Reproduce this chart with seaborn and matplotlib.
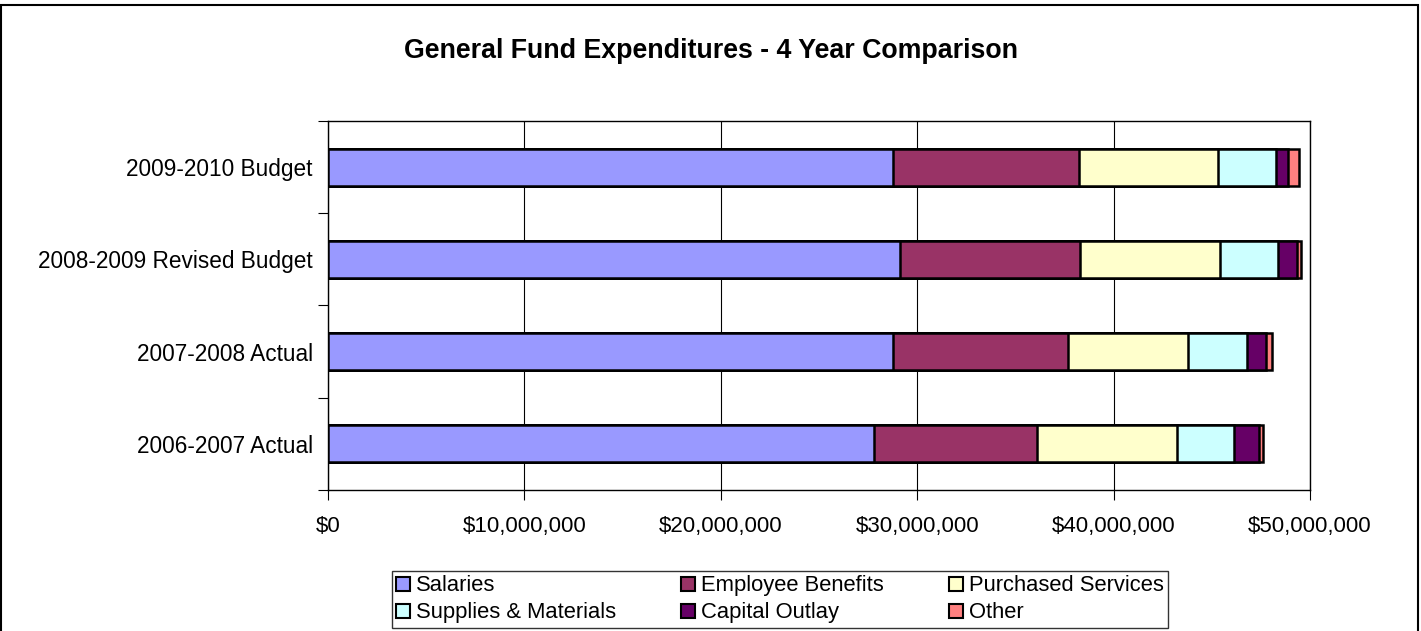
import numpy as np
import pandas as pd
import matplotlib
matplotlib.use("Agg")
import matplotlib.pyplot as plt
from matplotlib.patches import Patch, Rectangle
from matplotlib.ticker import FuncFormatter
import seaborn as sns

# Fiscal years, top to bottom
years = ["2009-2010 Budget", "2008-2009 Revised Budget", "2007-2008 Actual", "2006-2007 Actual"]

# Expenditure by category (millions of dollars), same order as years
salaries = [28.78, 29.12, 28.75, 27.82]
employee_benefits = [9.47, 9.17, 8.91, 8.29]
purchased_services = [7.08, 7.13, 6.15, 7.13]
supplies_materials = [2.92, 2.97, 2.96, 2.91]
capital_outlay = [0.65, 0.93, 0.97, 1.27]
other = [0.54, 0.22, 0.32, 0.17]

categories = ["Salaries", "Employee Benefits", "Purchased Services",
              "Supplies & Materials", "Capital Outlay", "Other"]
colors = ["#9999FF", "#993366", "#FFFFCC", "#CCFFFF", "#660066", "#FF8080"]

sns.set_theme(style="white")
plt.rcParams["font.family"] = ["Liberation Sans", "DejaVu Sans"]
plt.rcParams["text.color"] = "black"
plt.rcParams["xtick.color"] = "black"
plt.rcParams["ytick.color"] = "black"

series = [salaries, employee_benefits, purchased_services,
          supplies_materials, capital_outlay, other]
df = pd.DataFrame({name: np.array(vals) * 1e6 for name, vals in zip(categories, series)})
df["Year"] = years
cum = df[categories].cumsum(axis=1)

fig = plt.figure(figsize=(14.21, 6.31), dpi=100)
ax = fig.add_axes([0.2308, 0.2235, 0.6911, 0.5847])

# Stack by overlaying cumulative totals, widest first
for name, col in reversed(list(zip(categories, colors))):
    sns.barplot(x=cum[name].values, y=df["Year"], order=years, orient="h",
                color=col, width=0.4, edgecolor="black", linewidth=1.8,
                saturation=1, ax=ax, zorder=3)

ax.set_xlim(0, 50e6)
ax.set_ylim(3.5, -0.5)
ax.set_xticks(np.arange(0, 50e6 + 1, 10e6))
ax.xaxis.set_major_formatter(FuncFormatter(lambda v, p: f"${v:,.0f}"))
ax.grid(axis="x", color="black", linewidth=0.8, zorder=0)
ax.grid(axis="y", visible=False)
ax.set_xlabel("")
ax.set_ylabel("")
for s in ax.spines.values():
    s.set_color("black")
    s.set_linewidth(1.0)

ax.set_yticks(np.arange(-0.5, 4.0, 1.0), minor=True)
ax.tick_params(axis="y", which="major", length=0, pad=11, labelsize=16.3, labelcolor="black")
ax.tick_params(axis="y", which="minor", length=7, width=0.8, color="black", left=True)
ax.tick_params(axis="x", which="major", length=7, width=0.8, color="black",
               bottom=True, pad=12, labelsize=16, labelcolor="black")

fig.text(0.5, 0.908, "General Fund Expenditures - 4 Year Comparison",
         ha="center", va="baseline", fontsize=19.3, fontweight="bold", color="black")

handles = [Patch(facecolor=c, edgecolor="black", linewidth=1.5) for c in colors]
order = [0, 3, 1, 4, 2, 5]
leg = fig.legend([handles[i] for i in order], [categories[i] for i in order],
                 ncol=3, loc="lower center", bbox_to_anchor=(0.549, -0.002),
                 frameon=True, fancybox=False, edgecolor="black", fontsize=15.8,
                 handlelength=0.62, handleheight=0.62, handletextpad=0.3,
                 columnspacing=2.95, labelspacing=0.28, borderpad=0.2,
                 borderaxespad=0.2)
leg.get_frame().set_linewidth(1.0)
for t in leg.get_texts():
    t.set_color("black")

# Outer chart border
fig.patches.append(Rectangle((0.001, -0.01), 0.997, 1.0025, transform=fig.transFigure,
                             fill=False, edgecolor="black", linewidth=1.5))

fig.savefig("out.png", dpi=100, facecolor="white")
